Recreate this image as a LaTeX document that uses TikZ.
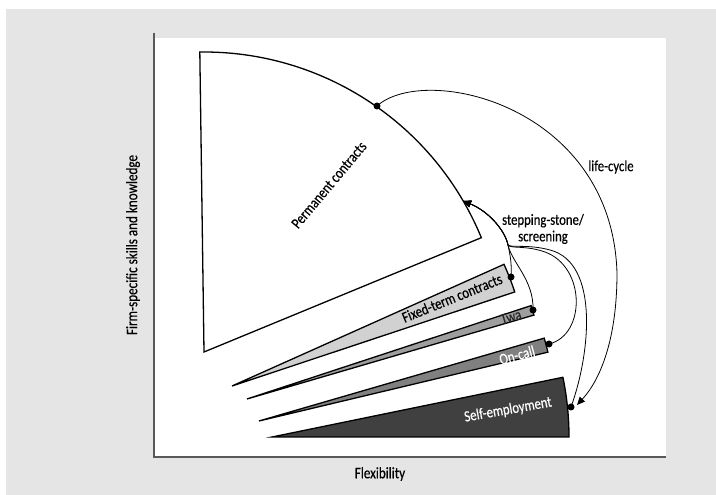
\documentclass[tikz,border=0pt]{standalone}
\usepackage{fontspec}
\setmainfont{Carlito}[FakeStretch=0.82, FakeBold=0.4]
\usetikzlibrary{arrows.meta}

\definecolor{bggray}{gray}{0.9}
\definecolor{axisgray}{gray}{0.35}
\definecolor{ftgray}{gray}{0.82}
\definecolor{twagray}{gray}{0.62}
\definecolor{ocgray}{gray}{0.5}
\definecolor{segray}{gray}{0.25}

\begin{document}
\begin{tikzpicture}[x=1pt, y=1pt,
    wedge/.style={draw=black, line width=1.3pt},
    link/.style={line width=0.8pt},
    dotmark/.style={circle, fill=black, inner sep=0pt, minimum size=7pt},
    tip/.style={-{Triangle[length=8pt,width=7pt]}},
    lbl/.style={font=\fontsize{15.5}{16.5}\selectfont, inner sep=1pt}]
    \useasboundingbox (0,0) rectangle (716,495);

    % Background and axes
    \fill[bggray] (6,0) rectangle (716,486);
    \fill[white] (155,38) rectangle (666,457);
    \draw[axisgray, line width=1.2pt] (154,462) -- (154,38) -- (666,38);
    \node[font=\fontsize{16}{18}\selectfont] (xlabel) at (380,21) {Flexibility};
    \node[font=\fontsize{16}{18}\selectfont, rotate=90] (ylabel) at (133,250) {Firm-specific skills and knowledge};

    % Permanent contracts
    \draw[wedge, fill=white] (204,143) -- ++(22.4:300) arc[start angle=22.4, end angle=90.8, radius=300] -- cycle;
    \node[lbl, rotate=50] (pclabel) at (329,310) {Permanent contracts};

    % Fixed-term contracts
    \draw[wedge, fill=ftgray] (232,109) -- ++(18.4:298) arc[start angle=18.4, end angle=24.1, radius=298] -- cycle;
    \node[lbl, rotate=22] (ftlabel) at (452,197) {Fixed-term contracts};

    % Twa
    \draw[wedge, fill=twagray] (247,96) -- ++(16.3:299) arc[start angle=16.3, end angle=18.2, radius=299] -- cycle;
    \node[lbl, rotate=17, text=black!85] (twalabel) at (511,178) {Twa};

    % On-call
    \draw[wedge, fill=ocgray] (259,74) -- ++(13.4:297) arc[start angle=13.4, end angle=16.2, radius=297] -- cycle;
    \node[lbl, rotate=15, text=white] (oclabel) at (517,140) {On-call};

    % Self-employment
    \draw[wedge, fill=segray] (272,58) -- ++(0:297) arc[start angle=0, end angle=11.6, radius=297] -- cycle;
    \node[lbl, rotate=10, text=white] (selabel) at (508,85) {Self-employment};

    % Transitions
    \node[dotmark] (pcdot) at (377,389) {};
    \coordinate (pcin) at (463,294);
    \coordinate (join) at (508,250);
    \node[dotmark] (ftdot) at (511,218) {};
    \node[dotmark] (twadot) at (533,185) {};
    \node[dotmark] (ocdot) at (549,151) {};
    \node[dotmark] (sedot) at (571,88) {};
    \coordinate (sein) at (577,90);

    \draw[link, tip] (pcdot.center) .. controls (425,432) and (612,390) .. (617,222)
        .. controls (617,155) and (600,115) .. (sein);
    \node[lbl] (lclabel) at (611,328) {life-cycle};

    \draw[link, tip] (ftdot.center) .. controls (512,232) and (510,240) .. (join)
        .. controls (505,265) and (488,284) .. (pcin);
    \draw[link, tip] (twadot.center) .. controls (534,215) and (512,232) .. (join)
        .. controls (505,265) and (488,284) .. (pcin);
    \draw[link, tip] (ocdot.center) .. controls (586,160) and (586,228) .. (545,243)
        .. controls (525,250) and (511,246) .. (join)
        .. controls (505,265) and (488,284) .. (pcin);
    \draw[link, tip] (sedot.center) .. controls (590,140) and (600,232) .. (550,245)
        .. controls (528,251) and (511,247) .. (join)
        .. controls (505,265) and (488,284) .. (pcin);
    \node[lbl, align=center] (sslabel) at (543,266) {stepping-stone/\\screening};
\end{tikzpicture}
\end{document}
